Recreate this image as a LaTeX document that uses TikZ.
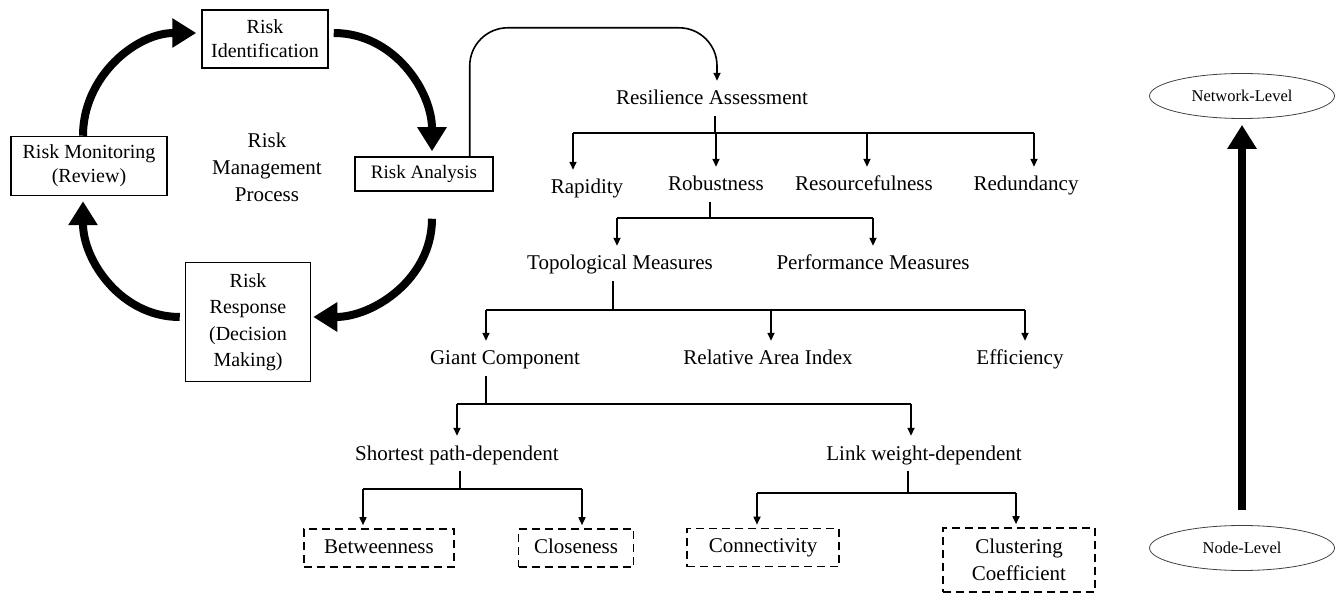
\documentclass[tikz,border=0pt]{standalone}
\usepackage{fontspec}
\setmainfont{Liberation Serif}
\usetikzlibrary{arrows.meta,calc,shapes.geometric}

\begin{document}
\begin{tikzpicture}[x=1pt,y=1pt,
        rbox/.style={draw, rectangle, line width=1.5pt, align=center, inner sep=2pt, font=\fontsize{20}{24}\selectfont},
        lbl/.style={font=\fontsize{21}{25}\selectfont, text height=15pt, text depth=5pt, inner xsep=2pt, inner ysep=6pt},
        dbox/.style={draw, rectangle, dash pattern=on 8pt off 5pt, line width=1.6pt, align=center, minimum height=38pt, font=\fontsize{21}{27}\selectfont},
        dline/.style={dbox, text height=15pt, text depth=5pt},
        lvl/.style={draw=black!75, ellipse, line width=0.8pt, minimum width=185pt, minimum height=45pt, font=\fontsize{16.5}{20}\selectfont},
        bigarrow/.style={line width=8pt, -{Triangle[length=24pt,width=28pt]}},
        tline/.style={line width=1.6pt},
        tarrow/.style={line width=1.6pt, shorten >=3pt, -{Triangle[length=8pt,width=7pt]}}]
        \useasboundingbox (0,0) rectangle (1344,-593);

        \node[rbox, minimum width=126pt, minimum height=58pt] (ide) at (265,-39) {Risk\\Identification};
        \node[rbox, minimum width=138pt, minimum height=34pt, font=\fontsize{19}{23}\selectfont] (ana) at (424,-174) {Risk Analysis};
        \node[rbox, minimum width=156pt, minimum height=59pt] (mon) at (89,-166) {Risk Monitoring\\(Review)};
        \node[rbox, minimum width=125pt, minimum height=119pt, font=\fontsize{20}{26.5}\selectfont] (res) at (248,-322) {Risk\\Response\\(Decision\\Making)};
        \node[align=center, font=\fontsize{21}{27}\selectfont] (rmp) at (267,-167) {Risk\\Management\\Process};

        \draw[bigarrow] ($(mon.north)+(-6,0)$) to[out=90,in=180] ($(ide.west)+(-5,6)$);
        \draw[bigarrow] ($(ide.east)+(5,6)$) to[out=0,in=90] ($(ana.north)+(8,5)$);
        \draw[bigarrow] ($(ana.south)+(8,-27)$) to[out=-90,in=0] ($(res.east)+(2,5)$);
        \draw[bigarrow] ($(res.west)+(-5,5)$) to[out=180,in=-90] ($(mon.south)+(-6,-5)$);

        \node[lbl] (ra) at (712,-100) {Resilience Assessment};
        \node[lbl] (rap) at (587,-189) {Rapidity};
        \node[lbl] (rob) at (716,-186) {Robustness};
        \node[lbl] (rsf) at (864,-186) {Resourcefulness};
        \node[lbl] (red) at (1026,-186) {Redundancy};
        \node[lbl] (top) at (620,-265) {Topological Measures};
        \node[lbl] (prf) at (873,-265) {Performance Measures};
        \node[lbl] (gc) at (505,-360) {Giant Component};
        \node[lbl] (rai) at (768,-360) {Relative Area Index};
        \node[lbl] (eff) at (1020,-360) {Efficiency};
        \node[lbl] (spd) at (457,-455) {Shortest path-dependent};
        \node[lbl] (lwd) at (924,-455) {Link weight-dependent};
        \node[dline, minimum width=150pt] (btw) at (379,-548) {Betweenness};
        \node[dline, minimum width=115pt] (cls) at (576,-548) {Closeness};
        \node[dline, minimum width=152pt] (con) at (763,-547.5) {Connectivity};
        \node[dbox, minimum width=152pt, minimum height=64pt] (clu) at (1019,-560) {Clustering\\Coefficient};

        \node[lvl] (net) at (1242,-96) {Network-Level};
        \node[lvl] (nod) at (1242,-548) {Node-Level};
        \draw[bigarrow, shorten <=15pt, shorten >=6pt] (nod.north) -- (net.south);

        \draw[tarrow, rounded corners=38pt] ($(ana.north east)+(-24,0)$) |- ($(ra.north)+(5,56)$) -- ($(ra.north)+(5,0)$);

        \coordinate (b1) at (0,-133);
        \coordinate (b2) at (0,-218);
        \coordinate (b3) at (0,-310);
        \coordinate (b4) at (0,-404);
        \coordinate (b5) at (0,-489);
        \coordinate (b6) at (0,-493);

        \coordinate (raout) at ([xshift=3pt]ra.south);
        \coordinate (rapin) at ([xshift=-14pt]rap.north);
        \coordinate (rsfin) at ([xshift=3pt]rsf.north);
        \coordinate (redin) at ([xshift=8pt]red.north);
        \draw[tline] (raout) -- (raout |- b1);
        \draw[tline] (rapin |- b1) -- (redin |- b1);
        \draw[tarrow] (rapin |- b1) -- (rapin);
        \draw[tarrow] (rob.north |- b1) -- (rob.north);
        \draw[tarrow] (rsfin |- b1) -- (rsfin);
        \draw[tarrow] (redin |- b1) -- (redin);

        \coordinate (robout) at ([xshift=-6pt]rob.south);
        \coordinate (topin) at ([xshift=-3pt]top.north);
        \draw[tline] (robout) -- (robout |- b2);
        \draw[tline] (topin |- b2) -- (prf.north |- b2);
        \draw[tarrow] (topin |- b2) -- (topin);
        \draw[tarrow] (prf.north |- b2) -- (prf.north);

        \coordinate (topout) at ([xshift=-7pt]top.south);
        \coordinate (gcin) at ([xshift=-19pt]gc.north);
        \coordinate (raiin) at ([xshift=3pt]rai.north);
        \coordinate (effin) at ([xshift=5pt]eff.north);
        \draw[tline] (topout) -- (topout |- b3);
        \draw[tline] (gcin |- b3) -- (effin |- b3);
        \draw[tarrow] (gcin |- b3) -- (gcin);
        \draw[tarrow] (raiin |- b3) -- (raiin);
        \draw[tarrow] (effin |- b3) -- (effin);

        \coordinate (gcout) at ([xshift=-19pt]gc.south);
        \coordinate (lwdin) at ([xshift=-13pt]lwd.north);
        \draw[tline] (gcout) -- (gcout |- b4);
        \draw[tline] (spd.north |- b4) -- (lwdin |- b4);
        \draw[tarrow] (spd.north |- b4) -- (spd.north);
        \draw[tarrow] (lwdin |- b4) -- (lwdin);

        \coordinate (spdout) at ([xshift=3pt]spd.south);
        \coordinate (btwin) at ([xshift=-16pt]btw.north);
        \coordinate (clsin) at ([xshift=6pt]cls.north);
        \draw[tline] (spdout) -- (spdout |- b5);
        \draw[tline] (btwin |- b5) -- (clsin |- b5);
        \draw[tarrow] (btwin |- b5) -- (btwin);
        \draw[tarrow] (clsin |- b5) -- (clsin);

        \coordinate (lwdout) at ([xshift=-16pt]lwd.south);
        \coordinate (conin) at ([xshift=-6pt]con.north);
        \coordinate (cluin) at ([xshift=-3pt]clu.north);
        \draw[tline] (lwdout) -- (lwdout |- b6);
        \draw[tline] (conin |- b6) -- (cluin |- b6);
        \draw[tarrow] (conin |- b6) -- (conin);
        \draw[tarrow] (cluin |- b6) -- (cluin);
\end{tikzpicture}
\end{document}
